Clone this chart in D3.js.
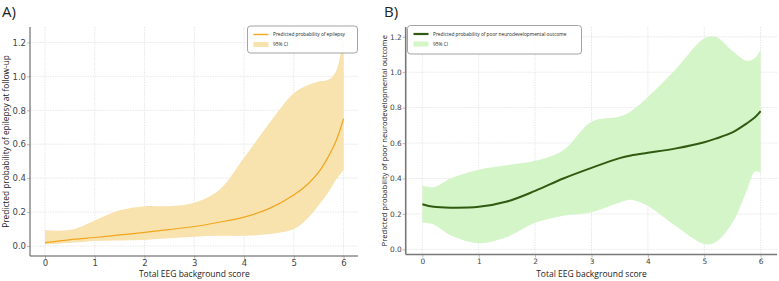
<!DOCTYPE html>
<html>
<head>
<meta charset="utf-8">
<script src="https://cdn.jsdelivr.net/npm/d3@7"></script>
<style>
  body { margin: 0; background: #fff; }
  svg { display: block; }
  .tick text { font-family: "DejaVu Sans", sans-serif; fill: #444; }
  .panel-label { font-family: "Open Sans", sans-serif; font-size: 15px; fill: #222; }
  .axis-title { font-family: "Open Sans", sans-serif; fill: #222; }
  .legend-text { font-family: "Open Sans", sans-serif; font-size: 4.8px; fill: #222; }
</style>
</head>
<body>
<div id="chart"></div>
<script>
// x = total EEG background score
const xTicks = [0, 1, 2, 3, 4, 5, 6];
const yTicks = [0, 0.2, 0.4, 0.6, 0.8, 1.0, 1.2];

// Panel A: epilepsy at follow-up
const epiX     = [0, 0.3, 0.6, 1, 1.5, 2, 2.5, 3, 3.5, 4, 4.5, 5, 5.3, 5.5, 5.7, 5.85, 6];
const epiMean  = [0.02, 0.03, 0.04, 0.05, 0.065, 0.08, 0.097, 0.115, 0.14, 0.17, 0.22, 0.3, 0.37, 0.435, 0.53, 0.62, 0.75];
const epiUpper = [0.095, 0.09, 0.1, 0.15, 0.21, 0.235, 0.235, 0.255, 0.33, 0.52, 0.72, 0.9, 0.95, 0.97, 0.98, 1.03, 1.24];
const epiLower = [0.01, 0.015, 0.02, 0.03, 0.033, 0.036, 0.045, 0.055, 0.06, 0.06, 0.07, 0.1, 0.17, 0.24, 0.32, 0.39, 0.45];

// Panel B: poor neurodevelopmental outcome
const ndX     = [0, 0.2, 0.5, 1, 1.5, 2, 2.5, 3, 3.5, 3.7, 4, 4.5, 5, 5.2, 5.5, 5.75, 5.9, 6];
const ndMean  = [0.255, 0.24, 0.235, 0.24, 0.27, 0.33, 0.4, 0.46, 0.515, 0.53, 0.545, 0.57, 0.605, 0.625, 0.66, 0.71, 0.745, 0.78];
const ndUpper = [0.36, 0.35, 0.4, 0.45, 0.475, 0.5, 0.56, 0.72, 0.75, 0.78, 0.86, 1.02, 1.19, 1.2, 1.12, 1.065, 1.08, 1.13];
const ndLower = [0.15, 0.14, 0.08, 0.035, 0.07, 0.15, 0.19, 0.21, 0.265, 0.28, 0.245, 0.13, 0.03, 0.04, 0.15, 0.33, 0.44, 0.43];

const W = 779, H = 281;
const svg = d3.select('#chart').append('svg').attr('width', W).attr('height', H);

const panels = [
  {
    label: 'A)', labelX: 2, labelY: 17,
    xs: epiX, mean: epiMean, upper: epiUpper, lower: epiLower,
    left: 30, right: 358, top: 27, bottom: 256,
    xDomain: [-0.302, 6.29], yDomain: [-0.059, 1.291],
    fill: '#f8e2ad', line: '#f2a51e', lineWidth: 1.2,
    spine: '#555', spineWidth: 1,
    tickSize: 8.5, titleSize: 8.3,
    yTitle: 'Predicted probability of epilepsy at follow-up', yTitleX: 9,
    legendName: 'Predicted probability of epilepsy',
    legend: { x: 247.5, y: 26, w: 110, h: 27 }
  },
  {
    label: 'B)', labelX: 384, labelY: 17,
    xs: ndX, mean: ndMean, upper: ndUpper, lower: ndLower,
    left: 405.7, right: 777, top: 27, bottom: 254.5,
    xDomain: [-0.295, 6.29], yDomain: [-0.029, 1.255],
    fill: '#d4f5c7', line: '#2f5a10', lineWidth: 2,
    spine: '#777', spineWidth: 1.6,
    tickSize: 7.4, titleSize: 7.6,
    yTitle: 'Predicted probability of poor neurodevelopmental outcome', yTitleX: 386.5,
    legendName: 'Predicted probability of poor neurodevelopmental outcome',
    legend: { x: 407.5, y: 25.5, w: 174, h: 28.5 }
  }
];

panels.forEach(p => drawPanel(p));

function drawPanel(p) {
  const x = d3.scaleLinear().domain(p.xDomain).range([p.left, p.right]);
  const y = d3.scaleLinear().domain(p.yDomain).range([p.bottom, p.top]);
  const g = svg.append('g');

  // grid
  g.append('g').selectAll('line.gx').data(xTicks).join('line')
    .attr('x1', d => x(d)).attr('x2', d => x(d))
    .attr('y1', p.top).attr('y2', p.bottom)
    .attr('stroke', '#e2e2e2').attr('stroke-width', 0.8).attr('stroke-dasharray', '1.5,1');
  g.append('g').selectAll('line.gy').data(yTicks).join('line')
    .attr('x1', p.left).attr('x2', p.right)
    .attr('y1', d => y(d)).attr('y2', d => y(d))
    .attr('stroke', '#e2e2e2').attr('stroke-width', 0.8).attr('stroke-dasharray', '1.5,1');

  // confidence band
  const pts = p.xs.map((v, i) => ({ x: v, m: p.mean[i], lo: p.lower[i], hi: p.upper[i] }));
  const area = d3.area()
    .x(d => x(d.x)).y0(d => y(d.lo)).y1(d => y(d.hi))
    .curve(d3.curveCatmullRom.alpha(0.5));
  g.append('path').datum(pts).attr('d', area).attr('fill', p.fill);

  const line = d3.line().x(d => x(d.x)).y(d => y(d.m)).curve(d3.curveCatmullRom.alpha(0.5));
  g.append('path').datum(pts).attr('d', line)
    .attr('fill', 'none').attr('stroke', p.line).attr('stroke-width', p.lineWidth);

  // axes
  const xAxis = g.append('g').attr('transform', `translate(0,${p.bottom})`)
    .call(d3.axisBottom(x).tickValues(xTicks).tickSize(3).tickPadding(1).tickFormat(d3.format('d')));
  const yAxis = g.append('g').attr('transform', `translate(${p.left},0)`)
    .call(d3.axisLeft(y).tickValues(yTicks).tickSize(3).tickPadding(1).tickFormat(d3.format('.1f')));
  [xAxis, yAxis].forEach(a => {
    a.select('.domain').remove();
    a.selectAll('.tick line').attr('stroke', '#bbb');
    a.selectAll('.tick text').attr('font-size', p.tickSize);
  });
  g.append('line').attr('x1', p.left).attr('x2', p.left).attr('y1', p.top).attr('y2', p.bottom)
    .attr('stroke', p.spine).attr('stroke-width', p.spineWidth);
  g.append('line').attr('x1', p.left).attr('x2', p.right).attr('y1', p.bottom).attr('y2', p.bottom)
    .attr('stroke', p.spine).attr('stroke-width', p.spineWidth);

  // titles
  g.append('text').attr('class', 'axis-title').attr('text-anchor', 'middle')
    .attr('font-size', 8.5)
    .attr('x', (x(0) + x(6)) / 2).attr('y', 277).text('Total EEG background score');
  g.append('text').attr('class', 'axis-title').attr('text-anchor', 'middle')
    .attr('font-size', p.titleSize)
    .attr('transform', `translate(${p.yTitleX},${(p.top + p.bottom) / 2}) rotate(-90)`)
    .text(p.yTitle);
  g.append('text').attr('class', 'panel-label').attr('x', p.labelX).attr('y', p.labelY).text(p.label);

  // legend
  const L = p.legend;
  const lg = g.append('g').attr('transform', `translate(${L.x},${L.y})`);
  lg.append('rect').attr('width', L.w).attr('height', L.h).attr('rx', 3)
    .attr('fill', '#fff').attr('fill-opacity', 0.85).attr('stroke', '#999').attr('stroke-width', 0.9);
  lg.append('line').attr('x1', 6).attr('x2', 21).attr('y1', 8.5).attr('y2', 8.5)
    .attr('stroke', p.line).attr('stroke-width', p.lineWidth + 0.2);
  lg.append('rect').attr('x', 6).attr('y', 16).attr('width', 15).attr('height', 5).attr('fill', p.fill);
  lg.append('text').attr('class', 'legend-text').attr('x', 25.5).attr('y', 10.3).text(p.legendName);
  lg.append('text').attr('class', 'legend-text').attr('x', 25.5).attr('y', 20.3).text('95% CI');
}
</script>
</body>
</html>
